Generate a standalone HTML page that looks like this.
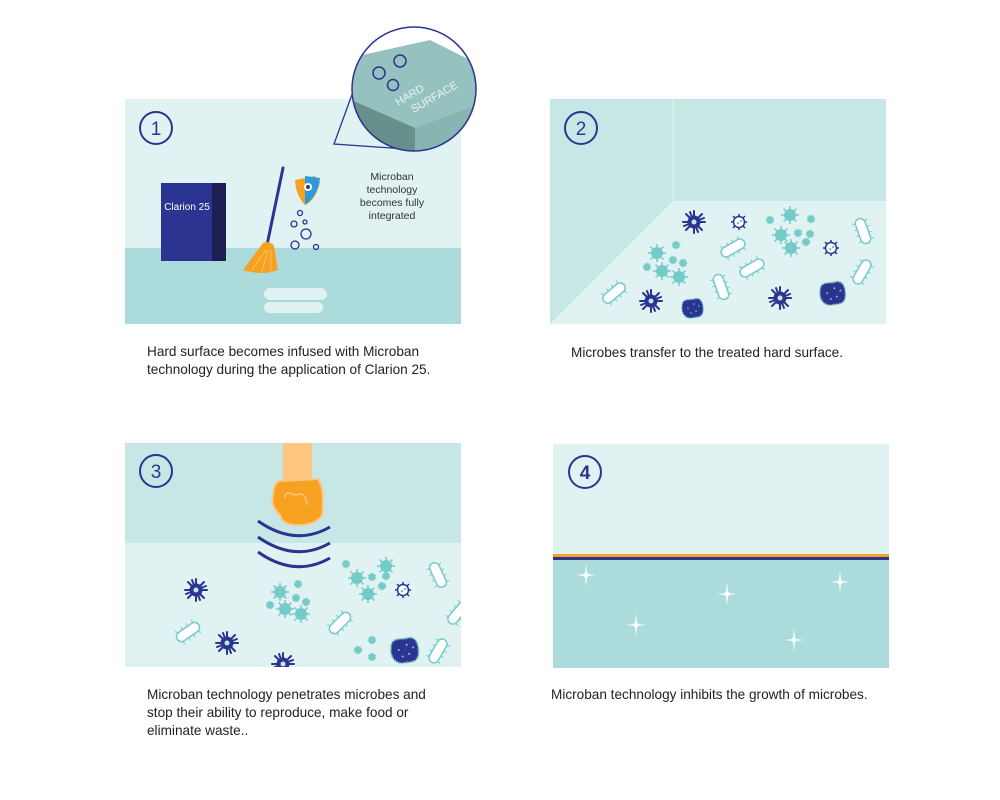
<!DOCTYPE html>
<html><head><meta charset="utf-8"><style>
body{margin:0;background:#fff}
svg{display:block}
text{font-family:"Liberation Sans",sans-serif}
</style></head><body>
<svg width="1000" height="800" viewBox="0 0 1000 800" xmlns="http://www.w3.org/2000/svg">
<defs>
<g id="vn"><g stroke="#2b3490" stroke-width="2" stroke-linecap="round">
<line x1="-11" y1="0" x2="11" y2="0"/><line x1="0" y1="-11" x2="0" y2="11"/>
<line x1="-8" y1="-8" x2="8" y2="8"/><line x1="-8" y1="8" x2="8" y2="-8"/>
<line x1="-4" y1="-10" x2="4" y2="10"/><line x1="-10" y1="4" x2="10" y2="-4"/></g>
<circle r="6.5" fill="#2b3490"/><circle r="2.5" fill="#c6e7e6"/></g>
<g id="vw"><g stroke="#2b3490" stroke-width="1.5"><line x1="-8" y1="0" x2="8" y2="0"/><line x1="0" y1="-8" x2="0" y2="8"/><line x1="-6" y1="-6" x2="6" y2="6"/><line x1="-6" y1="6" x2="6" y2="-6"/></g><circle r="5.5" fill="#fff" stroke="#2b3490" stroke-width="1.5"/><circle cx="-1" cy="1" r="1.3" fill="#74cbc8"/><circle cx="2" cy="-1" r="1.3" fill="#74cbc8"/></g>
<g id="vt"><g stroke="#74cbc8" stroke-width="1.5"><line x1="-9" y1="0" x2="9" y2="0"/><line x1="0" y1="-9" x2="0" y2="9"/><line x1="-6.5" y1="-6.5" x2="6.5" y2="6.5"/><line x1="-6.5" y1="6.5" x2="6.5" y2="-6.5"/></g><circle r="6" fill="#74cbc8"/></g>
<g id="vs"><circle r="3.5" fill="#74cbc8" stroke="#74cbc8" stroke-width="1.5" stroke-dasharray="1 1"/></g>
<g id="bac"><rect x="-13" y="-5" width="26" height="10" rx="5" fill="#fff" stroke="#74cbc8" stroke-width="1.5"/><g stroke="#74cbc8" stroke-width="1"><line x1="-9" y1="-5" x2="-10" y2="-8"/><line x1="-3" y1="-5" x2="-3" y2="-8"/><line x1="3" y1="-5" x2="3" y2="-8"/><line x1="9" y1="-5" x2="10" y2="-8"/><line x1="-9" y1="5" x2="-10" y2="8"/><line x1="-3" y1="5" x2="-3" y2="8"/><line x1="3" y1="5" x2="3" y2="8"/><line x1="9" y1="5" x2="10" y2="8"/></g></g>
<g id="blob"><path d="M-10,-2 C-10,-10 -2,-8 2,-9 C10,-12 12,-2 11,4 C10,10 4,9 0,10 C-6,11 -11,6 -10,-2Z" fill="#2b3490" stroke="#74cbc8" stroke-width="1.5" stroke-dasharray="1 1"/><g fill="#74cbc8"><circle cx="-4" cy="0" r="0.8"/><circle cx="2" cy="-4" r="0.8"/><circle cx="4" cy="3" r="0.8"/><circle cx="-1" cy="5" r="0.8"/><circle cx="7" cy="-2" r="0.8"/></g></g>
<g id="sp"><path d="M0,-12 L1,-1 L10,0 L1,1 L0,12 L-1,1 L-10,0 L-1,-1Z" fill="#fff"/><circle r="2.5" fill="#fff"/></g>
<clipPath id="p3"><rect x="125" y="443" width="336" height="224"/></clipPath>
<clipPath id="p2"><rect x="550" y="99" width="336" height="225"/></clipPath>
</defs>

<!-- Panel 1 -->
<rect x="125" y="99" width="336" height="150" fill="#e0f2f2"/>
<rect x="125" y="248" width="336" height="76" fill="#abdcdb"/>
<circle cx="156" cy="128" r="16" fill="none" stroke="#2b3490" stroke-width="2"/>
<text x="156" y="135" font-size="19" text-anchor="middle" fill="#2b3490">1</text>
<rect x="161" y="183" width="53" height="78" fill="#2b3490"/>
<rect x="212" y="183" width="14" height="78" fill="#1e1e55"/>
<text x="187" y="210" font-size="10" text-anchor="middle" fill="#fff" font-family="Liberation Serif,serif">Clarion 25</text>
<rect x="264" y="288" width="63" height="12" rx="6" fill="#e0f2f2"/>
<rect x="264" y="302" width="59" height="11" rx="5.5" fill="#e0f2f2"/>
<line x1="283" y1="168" x2="267" y2="245" stroke="#2b3490" stroke-width="3" stroke-linecap="round"/>
<path d="M263 243 Q270 240 274 246 L278 270 Q262 276 243 270 Q252 258 263 243Z" fill="#f6a11f"/>
<g stroke="#fcc680" stroke-width="0.8"><line x1="266" y1="250" x2="252" y2="270"/><line x1="268" y1="250" x2="262" y2="272"/><line x1="271" y1="250" x2="271" y2="271"/></g>
<path d="M295 180 L315 176 L320 182 Q316 200 305 205 Q296 196 295 180Z" fill="#f6a11f"/>
<path d="M305 176 L320 178 Q318 196 305 205Z" fill="#2a9be0"/>
<circle cx="308" cy="187" r="4" fill="#fff"/><circle cx="308" cy="187" r="2" fill="#2b3490"/>
<g fill="none" stroke="#2b3490" stroke-width="1.3"><circle cx="300" cy="213" r="2.5"/><circle cx="294" cy="224" r="3"/><circle cx="305" cy="222" r="2"/><circle cx="306" cy="234" r="5"/><circle cx="295" cy="245" r="4"/><circle cx="316" cy="247" r="2.5"/></g>
<text font-size="10.5" fill="#333" text-anchor="middle"><tspan x="392" y="180">Microban</tspan><tspan x="392" y="193">technology</tspan><tspan x="392" y="206">becomes fully</tspan><tspan x="392" y="219">integrated</tspan></text>
<path d="M334 144 L358 78 L420 150Z" fill="#e0f2f2" stroke="#2b3490" stroke-width="1.3"/>
<circle cx="414" cy="89" r="62" fill="#e0f2f2"/>
<clipPath id="cc"><circle cx="414" cy="89" r="62"/></clipPath>
<g clip-path="url(#cc)">
<rect x="340" y="20" width="150" height="150" fill="#fff"/>
<path d="M340 60 L430 40 L490 70 L490 130 L415 150 L340 100Z" fill="#95c1bf"/>
<path d="M340 95 L415 128 L415 170 L340 170Z" fill="#67908d"/>
<path d="M415 128 L490 100 L490 170 L415 170Z" fill="#88b4b1"/>
<path d="M340 20 L490 20 L490 55 L430 35 L340 55Z" fill="#fff"/>
</g>
<circle cx="414" cy="89" r="62" fill="none" stroke="#2b3490" stroke-width="1.5"/>
<g fill="none" stroke="#2b3490" stroke-width="1.5"><circle cx="379" cy="73" r="6"/><circle cx="400" cy="61" r="6"/><circle cx="393" cy="85" r="5.5"/></g>
<text font-size="11" fill="#e8f4f4" transform="translate(398,106) rotate(-30)"><tspan x="0" y="0">HARD</tspan><tspan x="10" y="14">SURFACE</tspan></text>
<text font-size="13.6" fill="#222"><tspan x="147" y="356">Hard surface becomes infused with Microban</tspan><tspan x="147" y="374">technology during the application of Clarion 25.</tspan></text>

<!-- Panel 2 -->
<rect x="550" y="99" width="336" height="225" fill="#e0f2f2"/>
<path d="M550 99 L886 99 L886 201 L673 201 L550 324Z" fill="#c6e7e6"/>
<line x1="673" y1="99" x2="673" y2="201" stroke="#dff0ef" stroke-width="1"/>
<circle cx="581" cy="128" r="16" fill="none" stroke="#2b3490" stroke-width="2"/>
<text x="581" y="135" font-size="19" text-anchor="middle" fill="#2b3490">2</text>
<g clip-path="url(#p2)">
<use href="#vn" x="694" y="222"/><use href="#vw" x="739" y="222"/><use href="#vt" x="790" y="215"/>
<use href="#vs" x="811" y="219"/><use href="#vt" x="781" y="235"/><use href="#vs" x="798" y="233"/><use href="#vs" x="810" y="234"/><use href="#vs" x="806" y="242"/><use href="#vt" x="791" y="248"/><use href="#vs" x="770" y="220"/>
<use href="#vw" x="831" y="248"/><use href="#bac" transform="translate(863,231) rotate(70)"/>
<use href="#vt" x="657" y="253"/><use href="#vs" x="676" y="245"/><use href="#vs" x="673" y="260"/><use href="#vs" x="683" y="263"/><use href="#vt" x="662" y="271"/><use href="#vt" x="679" y="277"/><use href="#vs" x="647" y="267"/>
<use href="#bac" transform="translate(733,248) rotate(-30)"/><use href="#bac" transform="translate(752,268) rotate(-30)"/>
<use href="#bac" transform="translate(862,272) rotate(-60)"/><use href="#bac" transform="translate(614,293) rotate(-40)"/>
<use href="#bac" transform="translate(721,287) rotate(70)"/><use href="#vn" x="651" y="301"/><use href="#blob" x="692" y="308"/>
<use href="#vn" x="780" y="298"/><use href="#blob" transform="translate(832,293) scale(1.2)"/>
</g>
<text x="571" y="357" font-size="13.6" fill="#222">Microbes transfer to the treated hard surface.</text>

<!-- Panel 3 -->
<rect x="125" y="443" width="336" height="100" fill="#c6e7e6"/>
<rect x="125" y="543" width="336" height="124" fill="#e0f2f2"/>
<circle cx="156" cy="471" r="16" fill="none" stroke="#2b3490" stroke-width="2"/>
<text x="156" y="478" font-size="19" text-anchor="middle" fill="#2b3490">3</text>
<rect x="283" y="443" width="29" height="40" fill="#fcc680"/>
<path d="M280 481 L318 479 Q325 490 322 515 Q316 525 298 525 Q282 525 280 515 Q270 505 273 495 Q274 482 280 481Z" fill="#f6a11f" stroke="#fcc680" stroke-width="2"/>
<path d="M285 498 Q285 490 295 495 L302 494 Q306 496 307 505" fill="none" stroke="#fcc680" stroke-width="1.5"/>
<g fill="none" stroke="#2b3490" stroke-width="3"><path d="M258 521 Q295 547 330 527"/><path d="M258 537 Q295 563 330 543"/><path d="M258 552 Q295 578 330 558"/></g>
<g clip-path="url(#p3)">
<use href="#vn" x="196" y="590"/><use href="#bac" transform="translate(188,632) rotate(-35)"/><use href="#vn" x="227" y="643"/><use href="#vn" x="283" y="664"/>
<use href="#vt" x="280" y="592"/><use href="#vs" x="298" y="584"/><use href="#vs" x="296" y="598"/><use href="#vs" x="306" y="602"/><use href="#vt" x="285" y="609"/><use href="#vt" x="301" y="614"/><use href="#vs" x="270" y="605"/>
<use href="#vt" x="357" y="578"/><use href="#vs" x="372" y="577"/><use href="#vt" x="386" y="566"/><use href="#vs" x="386" y="576"/><use href="#vs" x="382" y="586"/><use href="#vt" x="368" y="594"/><use href="#vs" x="346" y="564"/>
<use href="#vw" x="403" y="590"/><use href="#bac" transform="translate(438,575) rotate(65)"/><use href="#bac" transform="translate(340,623) rotate(-45)"/>
<use href="#bac" transform="translate(458,613) rotate(-50)"/><use href="#bac" transform="translate(438,651) rotate(-60)"/>
<use href="#vs" x="372" y="640"/><use href="#vs" x="372" y="657"/><use href="#vs" x="358" y="650"/><use href="#blob" transform="translate(404,650) scale(1.3)"/>
</g>
<text font-size="13.6" fill="#222"><tspan x="147" y="699">Microban technology penetrates microbes and</tspan><tspan x="147" y="717">stop their ability to reproduce, make food or</tspan><tspan x="147" y="735">eliminate waste..</tspan></text>

<!-- Panel 4 -->
<rect x="553" y="444" width="336" height="110" fill="#e0f2f2"/>
<rect x="553" y="554" width="336" height="3" fill="#f6a11f"/>
<rect x="553" y="557" width="336" height="3" fill="#2b3490"/>
<rect x="553" y="560" width="336" height="108" fill="#abdcdb"/>
<circle cx="585" cy="472" r="16" fill="none" stroke="#2b3490" stroke-width="2"/>
<text x="585" y="479" font-size="19" text-anchor="middle" fill="#2b3490" font-weight="bold">4</text>
<use href="#sp" x="586" y="575"/><use href="#sp" x="727" y="594"/><use href="#sp" x="840" y="582"/><use href="#sp" x="636" y="625"/><use href="#sp" x="794" y="640"/>
<text x="551" y="699" font-size="13.6" fill="#222">Microban technology inhibits the growth of microbes.</text>
</svg>
</body></html>
